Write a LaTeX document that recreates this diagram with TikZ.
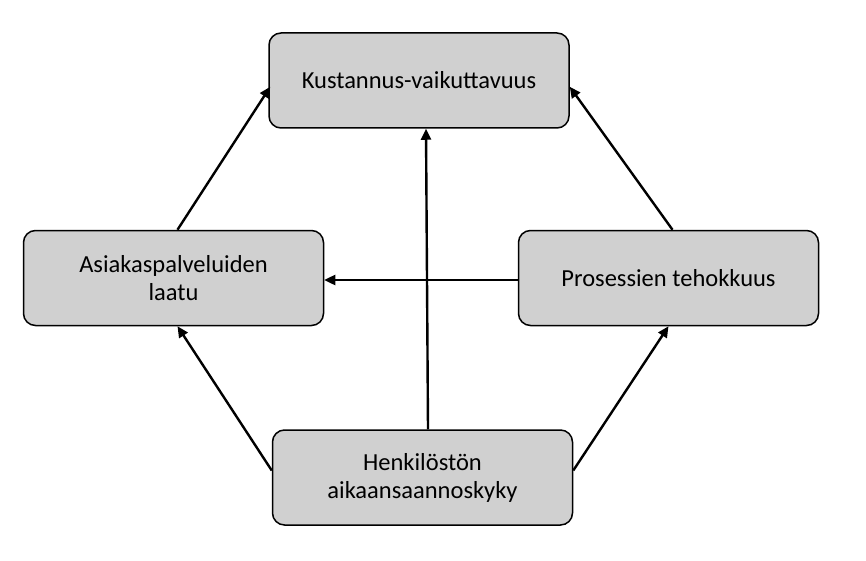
\documentclass[tikz,border=0pt]{standalone}
\usepackage{fontspec}
\setmainfont{Carlito}
\usetikzlibrary{arrows.meta}
\begin{document}
\begin{tikzpicture}[x=1pt,y=-1pt,
  box/.style={draw=black,line width=1.5pt,fill={rgb,255:red,208;green,208;blue,208},rounded corners=12pt,minimum width=300pt,minimum height=95pt,align=center,font=\fontsize{24.5}{28}\selectfont},
  arr/.style={line width=2.4pt,-{Triangle[length=11pt,width=10pt]}}]
\useasboundingbox (0,0) rectangle (866,561);
\node[box] (top) at (419,80.5) {Kustannus-vaikuttavuus};
\node[box] (left) at (173.5,278) {Asiakaspalveluiden\\laatu};
\node[box] (right) at (668.5,278) {Prosessien tehokkuus};
\node[box] (bot) at (422.5,477.5) {Henkilöstön\\aikaansaannoskyky};
\draw[arr] ([xshift=4pt]left.north) -- ([xshift=2pt,yshift=42pt]top.south west);
\draw[arr] ([xshift=4pt]right.north) -- ([xshift=0pt,yshift=42pt]top.south east);
\draw[arr] ([xshift=5.5pt]bot.north) -- ([xshift=7pt]top.south);
\draw[arr] (right.west |- 0,280) -- (left.east |- 0,280);
\draw[arr] ([yshift=7pt]bot.west) -- ([xshift=4pt]left.south);
\draw[arr] ([yshift=7pt]bot.east) -- ([xshift=0pt]right.south);
\end{tikzpicture}
\end{document}
